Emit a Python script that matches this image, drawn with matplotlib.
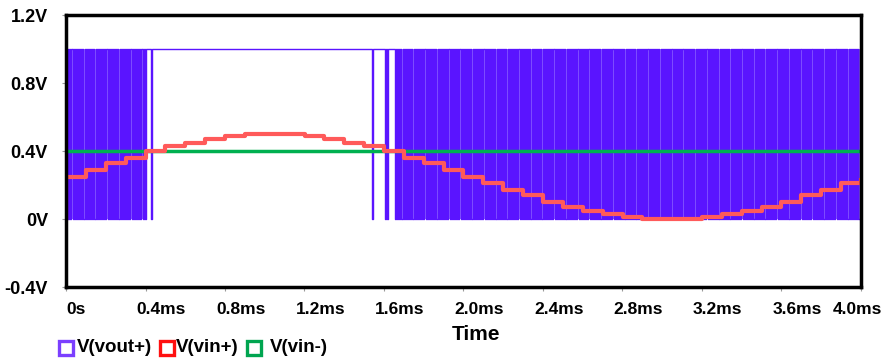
import numpy as np
import matplotlib.pyplot as plt
from matplotlib.lines import Line2D
from matplotlib.transforms import offset_copy

plt.rcParams['font.family'] = ['Liberation Sans', 'DejaVu Sans']
plt.rcParams['font.weight'] = 'bold'

# V(vin+) : sampled staircase, one level every 0.1 ms (ms, V)
vin_p_step = 0.1
vin_p_levels = [0.25, 0.29, 0.33, 0.36, 0.40, 0.43, 0.45, 0.47, 0.49, 0.50,
                0.50, 0.50, 0.49, 0.47, 0.45, 0.43, 0.40, 0.36, 0.33, 0.29,
                0.25, 0.21, 0.17, 0.14, 0.10, 0.07, 0.05, 0.03, 0.01, 0.00,
                0.00, 0.00, 0.01, 0.03, 0.05, 0.07, 0.10, 0.14, 0.17, 0.21]
vin_p_end = 0.23

# V(vin-) : constant reference
vin_m = 0.4

# V(vout+) : comparator output, chatters inside these windows (ms), high otherwise
chatter_windows = [(0.0, 0.405), (0.426, 0.431), (1.538, 1.548),
                   (1.605, 1.618), (1.655, 4.0)]
chatter_period = 0.011
vout_high = 1.0

yticks = [-0.4, 0.0, 0.4, 0.8, 1.2]
ytick_labels = ['-0.4V', '0V', '0.4V', '0.8V', '1.2V']
xticks = [0, 0.4, 0.8, 1.2, 1.6, 2.0, 2.4, 2.8, 3.2, 3.6, 4.0]
xtick_labels = ['0s', '0.4ms', '0.8ms', '1.2ms', '1.6ms', '2.0ms', '2.4ms',
                '2.8ms', '3.2ms', '3.6ms', '4.0ms']

# build the vout+ waveform
t_out = [0.0]
v_out = [vout_high]
for a, b in chatter_windows:
    t = a
    while t < b:
        t_out += [t, t, t + chatter_period / 2, t + chatter_period / 2]
        v_out += [vout_high, 0.0, 0.0, vout_high]
        t += chatter_period
t_out.append(4.0)
v_out.append(vout_high)

t_in = [0.0] + [i * vin_p_step for i in range(len(vin_p_levels))] + [4.0]
v_in = [0.0] + vin_p_levels + [vin_p_end]

fig = plt.figure(figsize=(8.95, 3.61), dpi=100)
ax = fig.add_axes([66 / 895, 1 - 287 / 361, 795 / 895, 272 / 361])

# light tint behind the dense switching, as the trace blurs in the original
for a, b in chatter_windows:
    ax.fill_between([a, b], 0, vout_high, color='#9470ff', lw=0)
ax.plot(t_out, v_out, color='#5a14ff', lw=1.0)
ax.axhline(vin_m, color='#00b050', lw=2.5)
ax.plot(t_in, v_in, color='#ff5a5a', lw=3, drawstyle='steps-post')

ax.set_xlim(0, 4.0)
ax.set_ylim(-0.4, 1.2)
ax.set_xticks(xticks)
ax.set_xticklabels([])
ax.set_yticks(yticks)
ax.set_yticklabels(ytick_labels, fontsize=13, fontweight='bold')
ax.tick_params(axis='y', length=3, color='#999999', pad=10)
ax.tick_params(axis='x', length=3, color='#999999')
for s in ax.spines.values():
    s.set_linewidth(2.5)
    s.set_color('black')

# x tick labels sit a little left of their ticks, as in the original
xform = ax.get_xaxis_transform()
for i, (xv, lab) in enumerate(zip(xticks, xtick_labels)):
    if i == 0:
        tr, ha = xform, 'left'
    elif i == len(xticks) - 1:
        tr, ha = offset_copy(xform, fig=fig, x=21, y=0, units='dots'), 'right'
    else:
        tr, ha = offset_copy(xform, fig=fig, x=-9, y=0, units='dots'), 'left'
    ax.text(xv, -22 / 272, lab, transform=tr, ha=ha, va='center',
            fontsize=12.5, fontweight='bold')

fig.text(476 / 895, 1 - 335 / 361, 'Time', fontsize=15, fontweight='bold',
         ha='center', va='center')

# legend row
leg = [('V(vout+)', '#7b3fff', 65.5, 77), ('V(vin+)', '#ff1010', 167, 176),
       ('V(vin-)', '#00a550', 254.5, 270)]
for label, col, mx, tx in leg:
    fig.add_artist(Line2D([mx / 895], [1 - 348 / 361], marker='s', ms=10,
                          mfc='white', mec=col, mew=2.4, ls='none',
                          transform=fig.transFigure))
    fig.text(tx / 895, 1 - 348 / 361, label, fontsize=13.5, fontweight='bold',
             va='center', ha='left')

fig.savefig('out.png', dpi=100)
